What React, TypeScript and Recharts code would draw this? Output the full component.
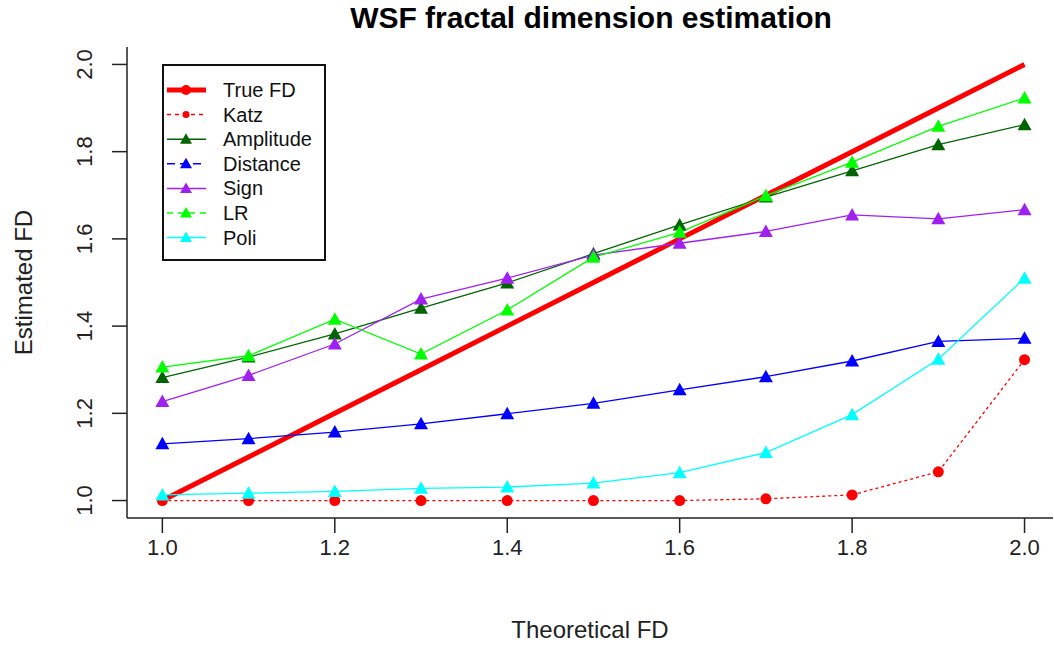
import React from 'react';
import { LineChart, Line, XAxis, YAxis, Legend, Label } from 'recharts';

const xValues = [1.0, 1.1, 1.2, 1.3, 1.4, 1.5, 1.6, 1.7, 1.8, 1.9, 2.0];
const trueFd = [1.0, 1.1, 1.2, 1.3, 1.4, 1.5, 1.6, 1.7, 1.8, 1.9, 2.0];
const katz = [1.0, 1.0, 1.0, 1.0, 1.0, 1.0, 1.0, 1.004, 1.013, 1.066, 1.323];
const amplitude = [1.282, 1.329, 1.382, 1.441, 1.499, 1.566, 1.632, 1.696, 1.756, 1.816, 1.862];
const distance = [1.13, 1.142, 1.157, 1.176, 1.199, 1.223, 1.254, 1.284, 1.32, 1.365, 1.372];
const sign = [1.227, 1.287, 1.359, 1.462, 1.51, 1.563, 1.59, 1.617, 1.655, 1.646, 1.667];
const lr = [1.306, 1.332, 1.416, 1.336, 1.437, 1.558, 1.615, 1.699, 1.776, 1.858, 1.923];
const poli = [1.013, 1.017, 1.021, 1.028, 1.031, 1.04, 1.064, 1.11, 1.197, 1.324, 1.51];

const xTicks = [1.0, 1.2, 1.4, 1.6, 1.8, 2.0];
const yTicks = [1.0, 1.2, 1.4, 1.6, 1.8, 2.0];

const data = xValues.map((x, i) => ({
  x,
  trueFd: trueFd[i],
  katz: katz[i],
  amplitude: amplitude[i],
  distance: distance[i],
  sign: sign[i],
  lr: lr[i],
  poli: poli[i],
}));

const FONT = '"Liberation Sans", Arial, sans-serif';

type Shape = 'circle' | 'triangle' | 'none';
const series: { key: string; name: string; color: string; width: number; shape: Shape; legendDash?: string }[] = [
  { key: 'trueFd', name: 'True FD', color: '#ff0000', width: 5, shape: 'none' },
  { key: 'katz', name: 'Katz', color: '#ff0000', width: 1.3, shape: 'circle', legendDash: '4 4' },
  { key: 'amplitude', name: 'Amplitude', color: '#006400', width: 1.3, shape: 'triangle' },
  { key: 'distance', name: 'Distance', color: '#0000ff', width: 1.3, shape: 'triangle', legendDash: '8 5' },
  { key: 'sign', name: 'Sign', color: '#a020f0', width: 1.3, shape: 'triangle' },
  { key: 'lr', name: 'LR', color: '#00ff00', width: 1.3, shape: 'triangle', legendDash: '6 5' },
  { key: 'poli', name: 'Poli', color: '#00ffff', width: 1.3, shape: 'triangle' },
];

const makeDot = (shape: Shape, color: string) => (props: any) => {
  const { cx, cy, index } = props;
  if (cx == null || cy == null) return <g key={index} />;
  if (shape === 'circle') return <circle key={index} cx={cx} cy={cy} r={5.5} fill={color} />;
  if (shape === 'triangle')
    return (
      <path key={index} d={`M${cx},${cy - 7} L${cx + 7},${cy + 5.5} L${cx - 7},${cy + 5.5} Z`} fill={color} />
    );
  return <g key={index} />;
};

const YTick = ({ x, y, payload }: any) => (
  <text x={x} y={y} transform={`rotate(-90 ${x} ${y})`} textAnchor="middle" fontSize={22} fill="#222" fontFamily={FONT}>
    {Number(payload.value).toFixed(1)}
  </text>
);

const XTick = ({ x, y, payload }: any) => (
  <text x={x} y={y + 20} textAnchor="middle" fontSize={22} fill="#222" fontFamily={FONT}>
    {Number(payload.value).toFixed(1)}
  </text>
);

const LegendBox = () => (
  <div
    style={{
      width: 160,
      height: 193,
      border: '2px solid #111',
      background: '#fff',
      boxSizing: 'content-box',
      position: 'relative',
    }}
  >
    <svg width={160} height={193} style={{ position: 'absolute', left: 0, top: 0 }}>
      {series.map((s, i) => {
        const cy = 24 + i * 24.6;
        return (
          <g key={s.key}>
            <line x1={3} x2={42} y1={cy} y2={cy} stroke={s.color} strokeWidth={s.key === 'trueFd' ? 5 : 1.5} strokeDasharray={s.legendDash} />
            {s.key === 'trueFd' && <circle cx={22} cy={cy} r={5} fill={s.color} />}
            {s.shape === 'circle' && <circle cx={22} cy={cy} r={3.5} fill={s.color} />}
            {s.shape === 'triangle' && <path d={`M22,${cy - 6} L28,${cy + 4.5} L16,${cy + 4.5} Z`} fill={s.color} />}
            <text x={59} y={cy + 7} fontSize={20} fill="#111" fontFamily={FONT}>
              {s.name}
            </text>
          </g>
        );
      })}
    </svg>
  </div>
);

export default function App() {
  return (
    <div style={{ position: 'absolute', left: 0, top: 0, width: 1054, height: 645, background: '#fff' }}>
      <div
        style={{
          position: 'absolute',
          left: 0,
          top: 1,
          width: 1182,
          textAlign: 'center',
          fontFamily: FONT,
          fontWeight: 'bold',
          fontSize: 30,
          color: '#000',
        }}
      >
        WSF fractal dimension estimation
      </div>
      <LineChart width={1054} height={645} data={data} margin={{ top: 47, right: 1, left: 0, bottom: 0 }}>
        <XAxis
          xAxisId="bottom"
          type="number"
          dataKey="x"
          domain={[0.959, 2.033]}
          ticks={xTicks}
          allowDataOverflow
          height={127}
          tickSize={15}
          tick={<XTick />}
          axisLine={{ stroke: '#222', strokeWidth: 1.5 }}
          tickLine={{ stroke: '#222', strokeWidth: 1.5 }}
        >
          <Label
            content={({ viewBox }: any) => (
              <text x={viewBox.x + viewBox.width / 2} y={638} textAnchor="middle" fontSize={24} fill="#222" fontFamily={FONT}>
                Theoretical FD
              </text>
            )}
          />
        </XAxis>
        <XAxis
          xAxisId="top"
          orientation="top"
          type="number"
          dataKey="x"
          domain={[0.959, 2.033]}
          allowDataOverflow
          height={0}
          tick={false}
          tickLine={false}
          axisLine={{ stroke: '#222', strokeWidth: 1.5 }}
        />
        <YAxis
          yAxisId="left"
          type="number"
          domain={[0.96, 2.04]}
          ticks={yTicks}
          allowDataOverflow
          width={127}
          tickSize={15}
          tickMargin={20}
          tick={<YTick />}
          axisLine={{ stroke: '#222', strokeWidth: 1.5 }}
          tickLine={{ stroke: '#222', strokeWidth: 1.5 }}
        >
          <Label
            content={({ viewBox }: any) => {
              const cx = 32;
              const cy = viewBox.y + viewBox.height / 2;
              return (
                <text x={cx} y={cy} transform={`rotate(-90 ${cx} ${cy})`} textAnchor="middle" fontSize={24} fill="#222" fontFamily={FONT}>
                  Estimated FD
                </text>
              );
            }}
          />
        </YAxis>
        <YAxis
          yAxisId="right"
          orientation="right"
          type="number"
          domain={[0.96, 2.04]}
          allowDataOverflow
          width={0}
          tick={false}
          tickLine={false}
          axisLine={{ stroke: '#222', strokeWidth: 1.5 }}
        />
        {series.map((s) => (
          <Line
            key={s.key}
            xAxisId="bottom"
            yAxisId="left"
            type="linear"
            dataKey={s.key}
            name={s.name}
            stroke={s.color}
            strokeWidth={s.width}
            strokeDasharray={s.key === 'katz' ? '3 3' : undefined}
            dot={makeDot(s.shape, s.color)}
            activeDot={false}
            isAnimationActive={false}
          />
        ))}
        <Legend
          layout="vertical"
          align="center"
          verticalAlign="middle"
          content={() => <LegendBox />}
          wrapperStyle={{ position: 'absolute', left: 162, top: 64, width: 'auto', height: 'auto' }}
        />
      </LineChart>
    </div>
  );
}
